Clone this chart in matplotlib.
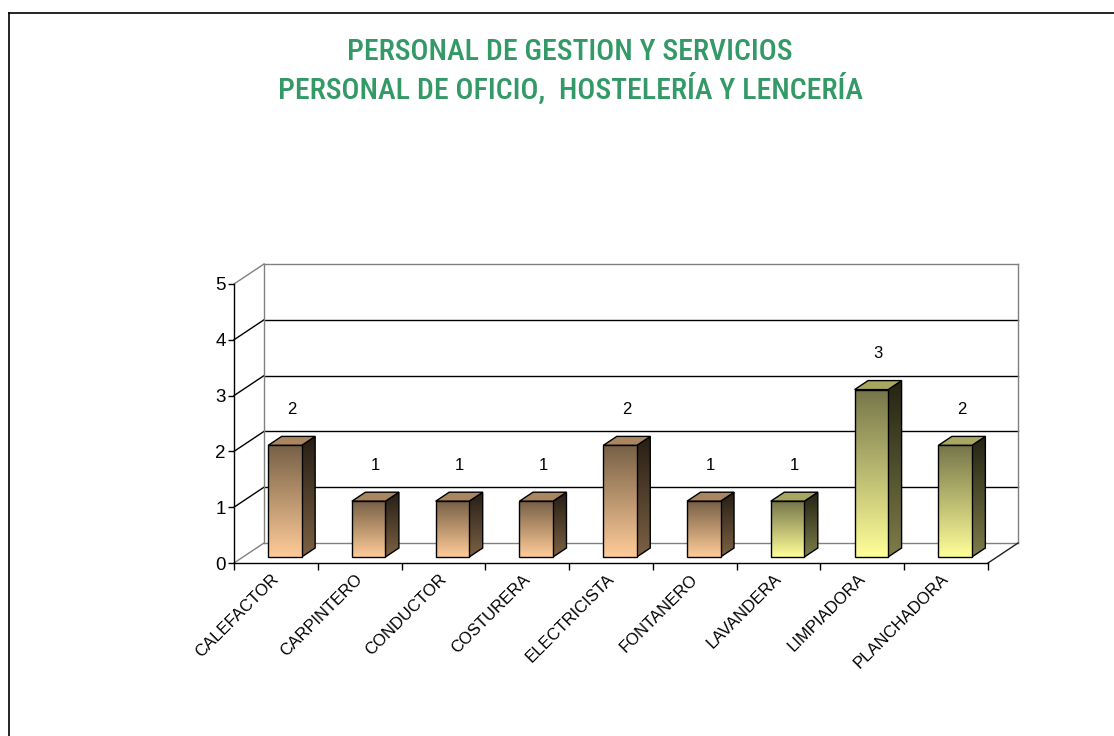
import numpy as np
import matplotlib.pyplot as plt
import matplotlib.transforms as mtrans
from matplotlib.patches import Polygon
from matplotlib.lines import Line2D
from matplotlib.colors import LinearSegmentedColormap

plt.rcParams['font.family'] = ['Liberation Sans', 'DejaVu Sans']

# staff counts per trade
categories = ['CALEFACTOR', 'CARPINTERO', 'CONDUCTOR', 'COSTURERA', 'ELECTRICISTA',
              'FONTANERO', 'LAVANDERA', 'LIMPIADORA', 'PLANCHADORA']
counts = [2, 1, 1, 1, 2, 1, 1, 3, 2]
groups = ['brown'] * 6 + ['olive'] * 3
y_ticks = [0, 1, 2, 3, 4, 5]
title_lines = ['PERSONAL DE GESTION Y SERVICIOS',
               'PERSONAL DE OFICIO,  HOSTELERÍA Y LENCERÍA']

# face colours: front (top, bottom), side (top, bottom), lid
palette = {
    'brown': {'front': ('#776046', '#ffcc99'), 'side': ('#261e15', '#7d6244'), 'lid': '#a9865f'},
    'olive': {'front': ('#76754a', '#ffff99'), 'side': ('#232313', '#7e7d4a'), 'lid': '#a8a762'},
}

W, H = 1114, 736
X0, X9 = 234, 988           # front floor edge, pixels
Y0, Y5 = 563, 284           # front value axis, pixels from top
px_x = (X9 - X0) / len(categories)
px_y = (Y0 - Y5) / 5.0
DX = 30 / px_x              # depth offset in data units
DY = 20 / px_y
F0, F1 = 0.30, 0.75         # bar front / back as fraction of depth
BW = 0.40                   # bar width in category units

fig = plt.figure(figsize=(W / 100, H / 100), dpi=100)
ax = fig.add_axes([0, 0, 1, 1])
xlim = (-X0 / px_x, (W - X0) / px_x)
ylim = (-(H - Y0) / px_y, Y0 / px_y)


def grad_fill(ax, verts, c_top, c_bot, z):
    poly = Polygon(verts, closed=True, facecolor='none', edgecolor='black', lw=1.0, zorder=z + 0.1)
    ax.add_patch(poly)
    xs = [v[0] for v in verts]
    ys = [v[1] for v in verts]
    cmap = LinearSegmentedColormap.from_list('g', [c_bot, c_top])
    grad = np.linspace(0, 1, 256).reshape(-1, 1)
    im = ax.imshow(grad, cmap=cmap, origin='lower', aspect='auto',
                   extent=(min(xs), max(xs), min(ys), max(ys)), zorder=z, interpolation='bilinear')
    im.set_clip_path(poly)


# back wall and side wall
n = len(categories)
for v in y_ticks:
    col = '#808080' if v in (0, 5) else 'black'
    ax.plot([DX, n + DX], [v + DY, v + DY], color=col, lw=1.0, zorder=1)
    ax.plot([0, DX], [v, v + DY], color=col, lw=1.0, zorder=1)
ax.plot([DX, DX], [DY, 5 + DY], color='#808080', lw=1.0, zorder=1)
ax.plot([n + DX, n + DX], [DY, 5 + DY], color='#808080', lw=1.0, zorder=1)
ax.plot([n, n + DX], [0, DY], color='#202020', lw=1.0, zorder=1)

# bars
dd = F1 - F0
for i, (v, g) in enumerate(zip(counts, groups)):
    pal = palette[g]
    xl = i + 0.5 - BW / 2 + F0 * DX
    xr = xl + BW
    yb = F0 * DY
    yt = v + F0 * DY
    front = [(xl, yb), (xr, yb), (xr, yt), (xl, yt)]
    side = [(xr, yb), (xr + dd * DX, yb + dd * DY), (xr + dd * DX, yt + dd * DY), (xr, yt)]
    lid = [(xl, yt), (xr, yt), (xr + dd * DX, yt + dd * DY), (xl + dd * DX, yt + dd * DY)]
    grad_fill(ax, side, pal['side'][0], pal['side'][1], 3)
    ax.add_patch(Polygon(lid, closed=True, facecolor=pal['lid'], edgecolor='black', lw=1.0, zorder=3.1))
    grad_fill(ax, front, pal['front'][0], pal['front'][1], 4)
    ax.annotate(str(v), xy=((xl + xr) / 2 + dd * DX / 2, yt), xytext=(0, 26),
                textcoords='offset points', ha='center', va='center', fontsize=12)

ax.set_xlim(xlim)
ax.set_ylim(ylim)

# front axes
for s in ('top', 'right'):
    ax.spines[s].set_visible(False)
ax.spines['left'].set_position(('data', 0))
ax.spines['left'].set_bounds(0, 5)
ax.spines['bottom'].set_position(('data', 0))
ax.spines['bottom'].set_bounds(0, n)
for s in ('left', 'bottom'):
    ax.spines[s].set_linewidth(1.0)
    ax.spines[s].set_zorder(5)
ax.set_yticks(y_ticks)
ax.set_yticklabels([str(t) for t in y_ticks], fontsize=13.5)
ax.tick_params(axis='y', direction='out', length=4, width=1.0, pad=2)
ax.set_xticks(np.arange(n + 1))
ax.set_xticklabels([])
ax.tick_params(axis='x', which='major', direction='out', length=5, width=1.0)
ax.set_xticks(np.arange(n) + 0.5, minor=True)
ax.set_xticklabels(categories, minor=True, rotation=45, ha='right', va='top',
                   rotation_mode='anchor', fontsize=12)
ax.tick_params(axis='x', which='minor', length=0, pad=6)
shift = mtrans.ScaledTranslation(-5 / 100, 0, fig.dpi_scale_trans)
for lbl in ax.get_xticklabels(minor=True):
    lbl.set_transform(lbl.get_transform() + shift)
ax.patch.set_alpha(0)

# title
for k, line in enumerate(title_lines):
    fig.text(570 / W, 1 - (52 + 37 * k) / H, line, ha='center', va='center',
             color='#339966', fontsize=21.5, fontweight='medium',
             family=['Roboto Condensed', 'Roboto', 'DejaVu Sans'])

# chart area border
fig.add_artist(Line2D([9 / W, 9 / W], [0, 1 - 12.5 / H], color='black', lw=1.2, transform=fig.transFigure))
fig.add_artist(Line2D([9 / W, 1], [1 - 12.5 / H, 1 - 12.5 / H], color='black', lw=1.2, transform=fig.transFigure))

fig.savefig('out.png', dpi=100)
